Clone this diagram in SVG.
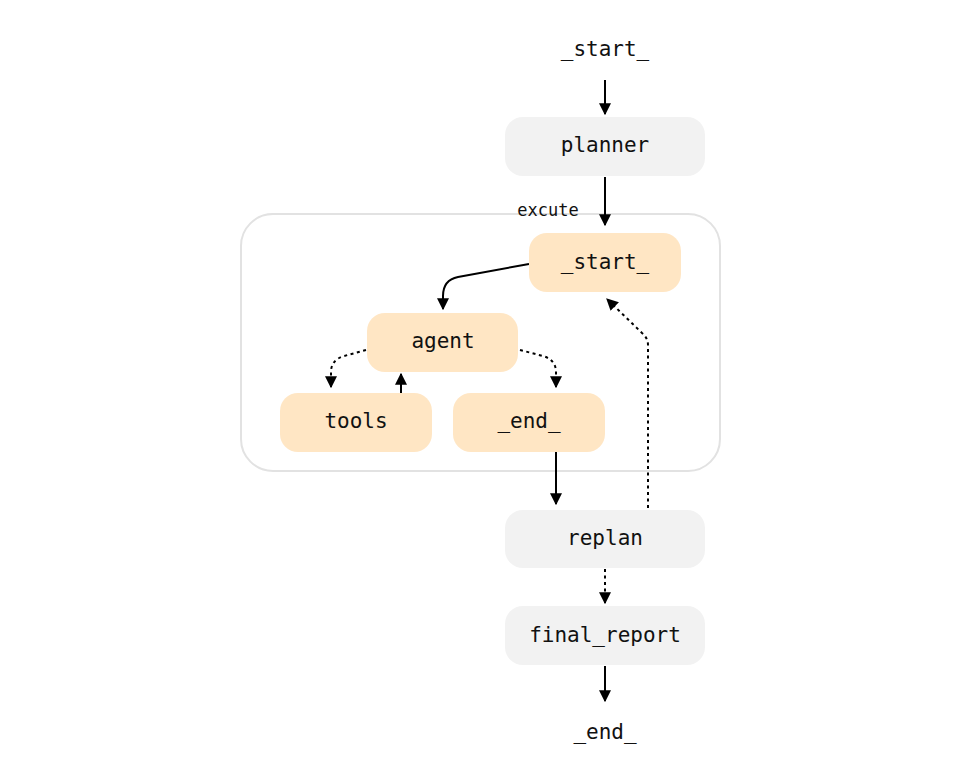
<svg xmlns="http://www.w3.org/2000/svg" width="962" height="782" viewBox="0 0 962 782">
<defs>
<style>
.t{font-family:"DejaVu Sans Mono","Liberation Mono",monospace;font-size:21px;fill:#111;text-anchor:middle}
.grey{fill:#f2f2f2}
.peach{fill:#ffe6c4}
.e{fill:none;stroke:#000;stroke-width:2}
.d{stroke-dasharray:3 3.5}
</style>
<marker id="ah" viewBox="0 0 10 10" refX="9" refY="5" markerWidth="12" markerHeight="12" markerUnits="userSpaceOnUse" orient="auto">
<path d="M0,0 L10,5 L0,10 z" fill="#000"/>
</marker>
</defs>
<rect width="962" height="782" fill="#fff"/>
<g id="cluster-excute">
<rect x="241" y="214" width="479" height="257" rx="32" fill="#fff" stroke="#e2e2e2" stroke-width="2"/>
<text x="548" y="216" font-family="DejaVu Sans Mono,Liberation Mono,monospace" font-size="17" text-anchor="middle" fill="#111">excute</text>
</g>
<g id="edges">
<path class="e" d="M605,80 V114" marker-end="url(#ah)"/>
<path class="e" d="M605,177 V225" marker-end="url(#ah)"/>
<path class="e" d="M529,264 L458,277 Q443,280 443,296 V309" marker-end="url(#ah)"/>
<path class="e d" d="M366,350 L344,356 Q331,360 331,372 V387" marker-end="url(#ah)"/>
<path class="e" d="M401,393 V374" marker-end="url(#ah)"/>
<path class="e d" d="M520,350 L543,356 Q556,360 556,372 V387" marker-end="url(#ah)"/>
<path class="e" d="M556,452 V504" marker-end="url(#ah)"/>
<path class="e d" d="M648,508 V345 Q648,338 642,333 L607,299" marker-end="url(#ah)"/>
<path class="e d" d="M605,569 V603" marker-end="url(#ah)"/>
<path class="e" d="M605,666 V701" marker-end="url(#ah)"/>
</g>
<g id="node-start"><text class="t" x="605" y="56">_start_</text></g>
<g id="node-planner"><rect class="grey" x="505" y="117" width="200" height="59" rx="18"/><text class="t" x="605" y="152">planner</text></g>
<g id="node-excute-start"><rect class="peach" x="529" y="233" width="152" height="59" rx="18"/><text class="t" x="605" y="269">_start_</text></g>
<g id="node-agent"><rect class="peach" x="367" y="313" width="151" height="59" rx="18"/><text class="t" x="443" y="348">agent</text></g>
<g id="node-tools"><rect class="peach" x="280" y="393" width="152" height="59" rx="18"/><text class="t" x="356" y="428">tools</text></g>
<g id="node-excute-end"><rect class="peach" x="453" y="393" width="152" height="59" rx="18"/><text class="t" x="529" y="428">_end_</text></g>
<g id="node-replan"><rect class="grey" x="505" y="510" width="200" height="58" rx="18"/><text class="t" x="605" y="545">replan</text></g>
<g id="node-final-report"><rect class="grey" x="505" y="606" width="200" height="59" rx="18"/><text class="t" x="605" y="642">final_report</text></g>
<g id="node-end"><text class="t" x="605" y="739">_end_</text></g>
</svg>
